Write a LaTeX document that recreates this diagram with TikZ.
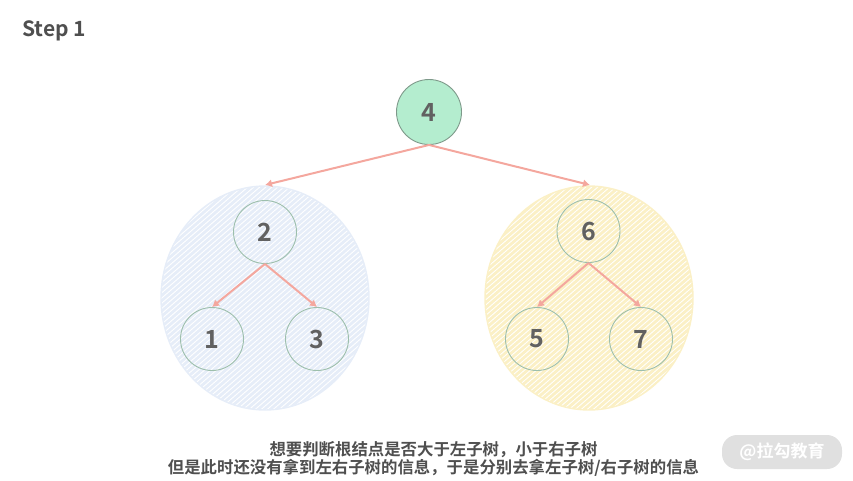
\documentclass[tikz,border=0pt]{standalone}
\usepackage{fontspec}
\setmainfont{Noto Sans CJK SC}[BoldFont={* Bold}]
\usetikzlibrary{arrows.meta}

\definecolor{nodeline}{HTML}{9DBFAC}
\definecolor{rootfill}{HTML}{B4EDCF}
\definecolor{arrowred}{HTML}{F4A79E}
\definecolor{blobblue}{HTML}{E6EDF8}
\definecolor{blobyellow}{HTML}{FBF0C6}
\definecolor{textgrey}{HTML}{4F4F4F}

\tikzset{
	treenode/.style={circle, draw=nodeline, line width=0.9pt, minimum size=63pt, inner sep=0pt,
		font=\bfseries\fontsize{25}{25}\selectfont, text=textgrey!90},
	edgearrow/.style={draw=arrowred, line width=2pt, -{Latex[length=7pt, width=8pt]}},
	caption/.style={font=\bfseries\fontsize{16.4}{18}\selectfont, text=textgrey, align=center},
}

\begin{document}
\begin{tikzpicture}[x=1pt, y=-1pt]
	\useasboundingbox (0,0) rectangle (853,480);
	
	% hatched blobs behind the two subtrees
	\begin{scope}
		\clip (265,298) ellipse [x radius=104, y radius=112];
		\foreach \i in {-60,-54,...,560} {
			\draw[blobblue, line width=2.8pt] (\i,420) -- ++(300,-260);
		}
	\end{scope}
	\draw[blobblue, line width=1.4pt] (265,298) ellipse [x radius=104, y radius=112];
	\begin{scope}
		\clip (589,298) ellipse [x radius=104, y radius=112];
		\foreach \i in {260,266,...,880} {
			\draw[blobyellow, line width=2.8pt] (\i,420) -- ++(300,-260);
		}
	\end{scope}
	\draw[blobyellow, line width=1.4pt] (589,298) ellipse [x radius=104, y radius=112];
	
	\node[treenode, fill=rootfill, draw=nodeline!80!black, minimum size=65pt] (n4) at (429,112) {4};
	\node[treenode] (n2) at (265,232) {2};
	\node[treenode] (n6) at (588.5,231) {6};
	\node[treenode] (n1) at (212,339) {1};
	\node[treenode] (n3) at (317,339) {3};
	\node[treenode] (n5) at (537,339) {5};
	\node[treenode] (n7) at (641,339) {7};
	
	\coordinate (leftblob) at (265,185);
	\coordinate (rightblob) at (590,185);
	\draw[edgearrow] (n4.south) -- (leftblob);
	\draw[edgearrow] (n4.south) -- (rightblob);
	\draw[edgearrow] (n2.south) -- (n1.north);
	\draw[edgearrow] (n2.south) -- (n3.north);
	\draw[edgearrow] (n6.south) -- (n5.north);
	\draw[edgearrow] (n6.south) -- (n7.north);
	
	\node[anchor=west, inner sep=0pt, text=textgrey, font=\bfseries\fontsize{21}{21}\selectfont] (title) at (22,31) {Step 1};
	\node[caption, inner sep=0pt] (note) at (433.5,459) {想要判断根结点是否大于左子树，小于右子树\\但是此时还没有拿到左右子树的信息，于是分别去拿左子树/右子树的信息};
	\node[fill=black!12, text=white, rounded corners=15pt, minimum width=120pt, minimum height=34pt, inner sep=0pt,
		font=\bfseries\fontsize{17}{17}\selectfont] (mark) at (782,452) {@拉勾教育};
\end{tikzpicture}
\end{document}
